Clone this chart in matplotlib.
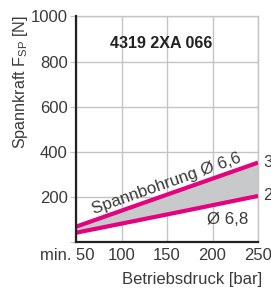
import matplotlib.pyplot as plt
import matplotlib.transforms as mtransforms

plt.rcParams['font.family'] = ['Liberation Sans', 'DejaVu Sans']

pressure = [50, 150, 250]
force_66 = [68, 210, 352]
force_68 = [41, 122, 204]
end_labels = ["350", "205"]

pink = "#e5007d"
grid_gray = "#c4c4c4"
txt = "#3a3a3a"

fig = plt.figure(figsize=(2.71, 2.94), dpi=100)
ax = fig.add_axes([0.281, 0.177, 0.671, 0.767])

ax.fill_between(pressure, force_68, force_66, color="#c8c9cb", lw=0, zorder=2)
ax.plot(pressure, force_66, color=pink, lw=3, solid_capstyle="butt", zorder=3)
ax.plot(pressure, force_68, color=pink, lw=3, solid_capstyle="butt", zorder=3)

ax.set_xlim(50, 250)
ax.set_ylim(0, 1000)
ax.set_xticks([50, 100, 150, 200, 250])
ax.set_xticklabels(["", "100", "150", "200", "250"])
ax.set_yticks([0, 200, 400, 600, 800, 1000])
ax.set_yticklabels(["", "200", "400", "600", "800", "1000"])
ax.grid(True, color=grid_gray, lw=1, zorder=0)
ax.tick_params(axis="both", labelsize=12, colors=txt, length=4,
               width=0.8, pad=2)
ax.tick_params(axis="y", color=grid_gray)
ax.tick_params(axis="x", length=0, pad=4)

for s in ["top", "right"]:
    ax.spines[s].set_color(grid_gray)
    ax.spines[s].set_linewidth(1)
for s in ["left", "bottom"]:
    ax.spines[s].set_color("#222222")
    ax.spines[s].set_linewidth(1.6)
    ax.spines[s].set_zorder(4)

# first tick label "min. 50", shifted right like in the original
trans = mtransforms.blended_transform_factory(ax.transData, ax.transAxes)
trans = trans + mtransforms.ScaledTranslation(0, -4 / 72, fig.dpi_scale_trans)
ax.text(70, 0, "min. 50", transform=trans, ha="right", va="top",
        fontsize=12, color=txt)

ax.text(144, 880, "4319 2XA 066", ha="center", va="center",
        fontsize=11.6, fontweight="bold", color="#222222")
ax.text(152, 226, "Spannbohrung Ø 6,6", rotation=19.5, rotation_mode="anchor",
        ha="center", va="bottom", fontsize=12.2, color=txt, zorder=5)
ax.text(217, 98, "Ø 6,8", ha="center", va="center", fontsize=12.2,
        color=txt)
ax.text(256, force_66[-1], end_labels[0], ha="left", va="center",
        fontsize=12, color=txt, clip_on=False)
ax.text(256, force_68[-1], end_labels[1], ha="left", va="center",
        fontsize=12, color=txt, clip_on=False)

fig.text(0.967, 0.048, "Betriebsdruck [bar]", ha="right", va="center",
         fontsize=12, color=txt)
fig.text(0.075, 0.948, r"Spannkraft F$_\mathregular{SP}$ [N]", rotation=90,
         ha="center", va="top", fontsize=11.6, color=txt)

fig.savefig("out.png", dpi=100)
